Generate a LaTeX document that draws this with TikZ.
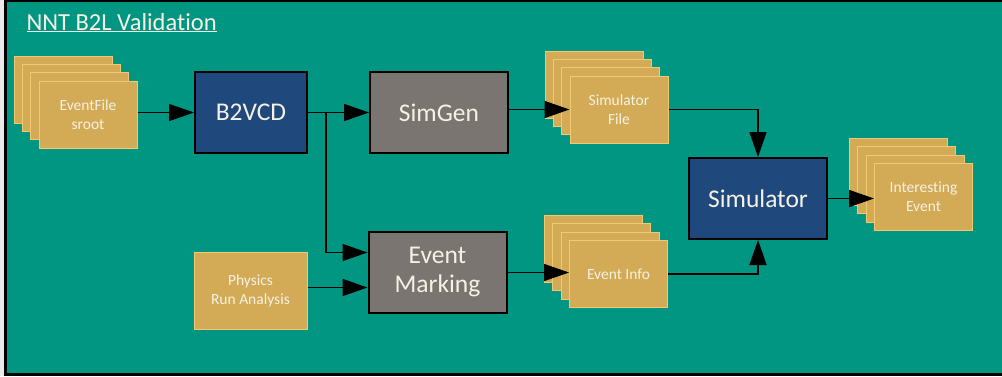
\documentclass[tikz,border=0pt]{standalone}
\usepackage{fontspec}
\setmainfont[Ligatures=NoCommon]{Carlito}
\usetikzlibrary{arrows.meta}
\definecolor{tealbg}{RGB}{0,150,130}
\definecolor{darkblue}{RGB}{31,73,125}
\definecolor{warmgray}{RGB}{122,117,112}
\definecolor{gold}{RGB}{211,171,86}
\definecolor{goldline}{RGB}{243,201,112}
\definecolor{cream}{RGB}{246,241,228}
\tikzset{
  bigbox/.style={draw=black, line width=2pt, text=cream, align=center,
    minimum width=138pt, minimum height=81pt, inner sep=0pt,
    font=\fontsize{25.5}{29}\selectfont},
  filebox/.style={draw=goldline, fill=gold, line width=1pt, text=cream, align=center,
    minimum width=98pt, minimum height=67pt, inner sep=0pt,
    font=\fontsize{15.5}{19}\selectfont},
  stacked/.style={filebox,
    preaction={draw=goldline, fill=gold, line width=1pt, transform canvas={shift={(-25pt,25pt)}}},
    preaction={draw=goldline, fill=gold, line width=1pt, transform canvas={shift={(-17pt,17pt)}}},
    preaction={draw=goldline, fill=gold, line width=1pt, transform canvas={shift={(-8.5pt,8.5pt)}}}},
  arr/.style={line width=1.5pt, -{Triangle[length=25pt,width=17pt]}}
}
\begin{document}
\begin{tikzpicture}[x=1pt,y=-1pt]
  \useasboundingbox (0,0) rectangle (1002,376);
  \fill[white!92!black] (0,0) rectangle (1002,376);
  % frame
  \begin{scope}
    \clip (0,0) rectangle (1002,376);
    \draw[fill=tealbg, line width=3pt] (5.5,0) rectangle (1010,374.5);
  \end{scope}
  \node[anchor=base west, text=cream, font=\fontsize{24.5}{28}\selectfont] (title) at (23,30)
    {\underline{NNT B2L Validation}};

  % inputs and steps
  \node[stacked] (evfile) at (88,114.5) {EventFile\\sroot};
  \node[bigbox, fill=darkblue, minimum width=112pt] (b2vcd) at (251,112.5) {B2VCD};
  \node[bigbox, fill=warmgray] (simgen) at (439,112.5) {SimGen};
  \node[stacked] (simfile) at (619,109.5) {Simulator\\File};
  \node[bigbox, fill=warmgray] (evmark) at (437.5,272.5) {Event\\Marking};
  \node[filebox, minimum width=113pt, minimum height=77pt] (physics) at (250.5,290.5) {Physics\\Run Analysis};
  \node[stacked] (evinfo) at (618.5,274) {Event Info};
  \node[bigbox, fill=darkblue] (simulator) at (758,198.5) {Simulator};
  \node[stacked] (intevent) at (923.5,197) {Interesting\\Event};

  % connectors
  \coordinate (split) at (326,112.5);
  \draw[arr] (evfile.east |- b2vcd.west) -- (b2vcd.west);
  \draw[arr] (b2vcd.east) -- (simgen.west);
  \draw[arr] (split) |- ([yshift=20pt]evmark.west);
  \draw[arr] ([yshift=-15pt]evmark.west -| physics.east) -- ([yshift=-15pt]evmark.west);
  \draw[arr] (simgen.east |- simfile.west) -- (simfile.west);
  \draw[arr] (evmark.east) -- (evmark.east -| evinfo.west);
  \draw[arr] (simfile.east) -| (simulator.north);
  \draw[arr] (evinfo.east) -| (simulator.south);
  \draw[arr] (simulator.east) -- (simulator.east -| intevent.west);
\end{tikzpicture}
\end{document}
